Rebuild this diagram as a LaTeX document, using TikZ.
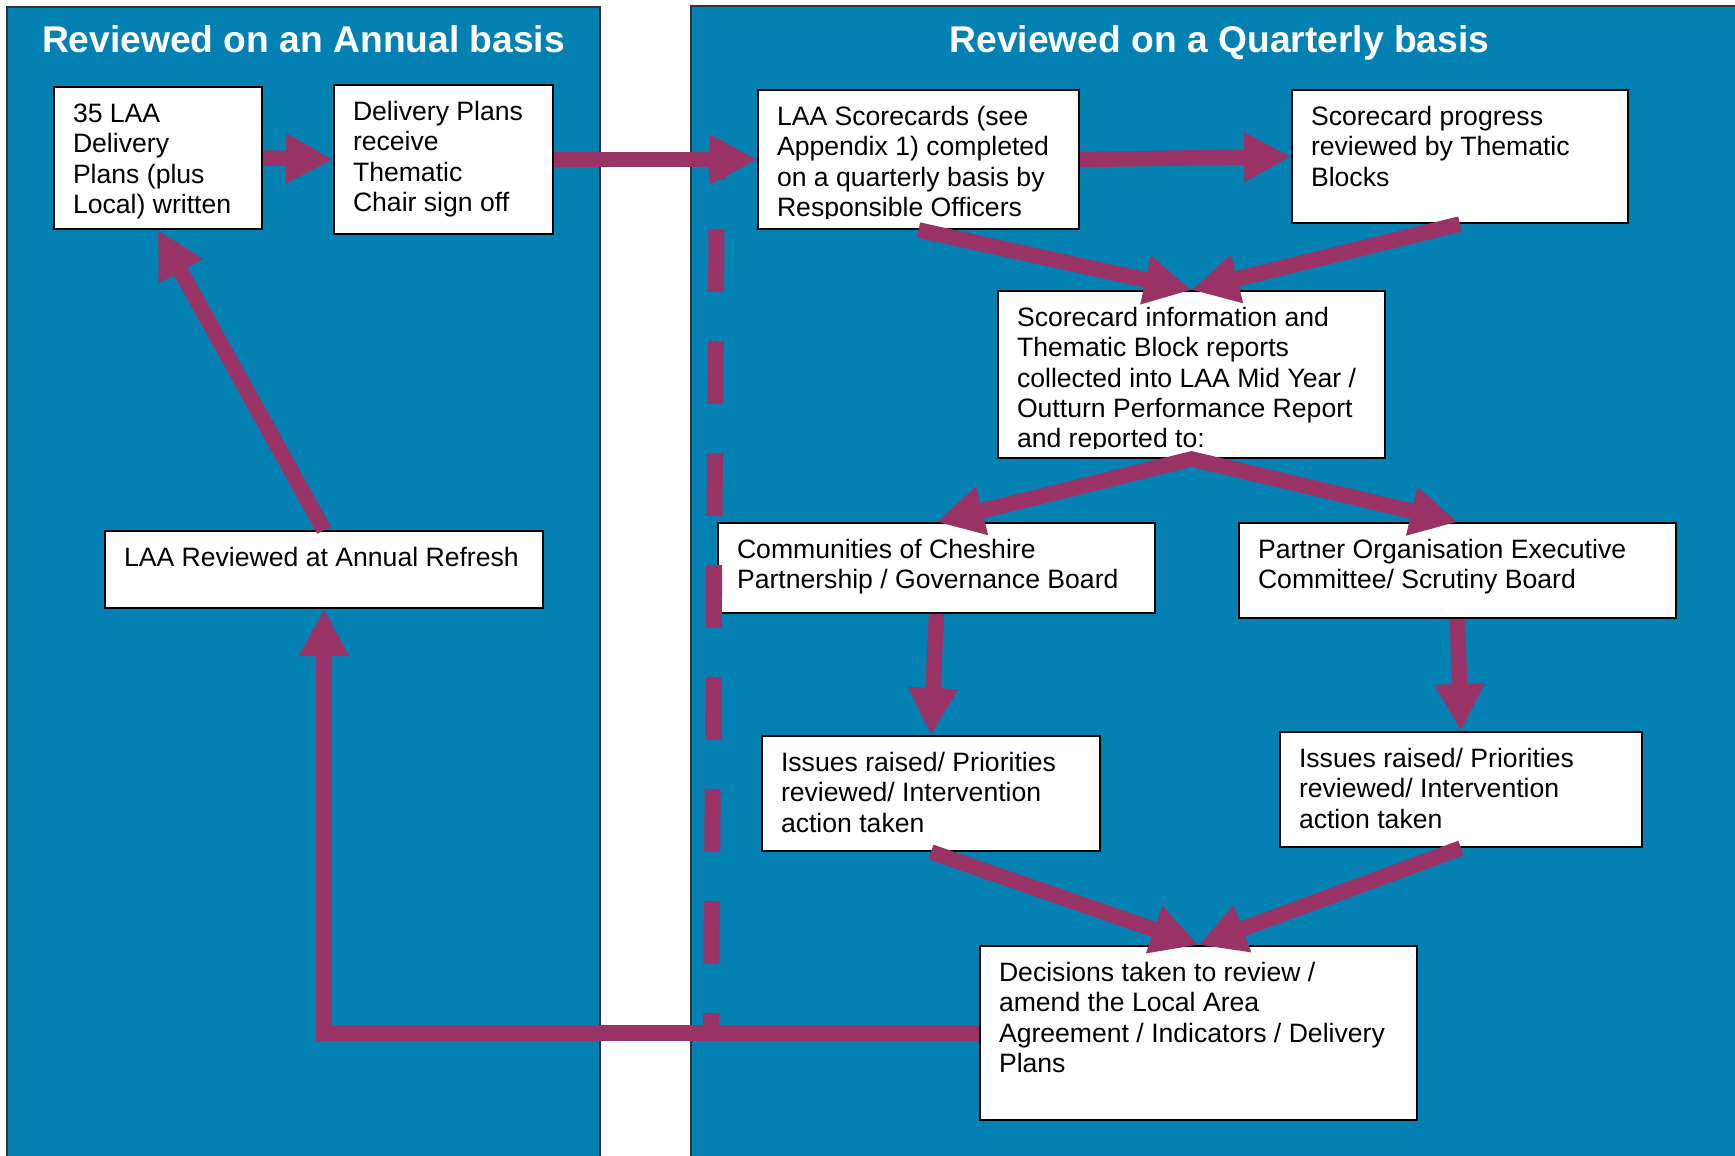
\documentclass[tikz,border=0pt]{standalone}
\usepackage{fontspec}
\setmainfont{Liberation Sans}
\usetikzlibrary{arrows.meta}
\definecolor{panelblue}{HTML}{0381B3}
\definecolor{plum}{HTML}{993366}
\newcommand{\boxtxt}[3]{\parbox[t][#2][t]{#1}{\raggedright\strut #3}}

\begin{document}
\begin{tikzpicture}[x=0.5pt, y=-0.5pt, >={Triangle[width=23.5pt,length=23.5pt]},
  panel/.style={draw=black!80, line width=0.8pt, fill=panelblue},
  heading/.style={text=white, font=\fontsize{18.6}{22}\selectfont\bfseries, anchor=base},
  stepbox/.style={draw=black, line width=1pt, fill=white, anchor=north west,
    inner xsep=9.5pt, inner ysep=7pt, font=\fontsize{13.3}{15.2}\selectfont},
  flow/.style={draw=plum, line width=7.75pt, ->}]
  \useasboundingbox (0,0) rectangle (1735,1156);
  % Panely
  \draw[panel] (7,7) rectangle (600,1180);
  \draw[panel] (691,6) rectangle (1760,1180);
  \node[heading] (annual) at (303.5,53) {Reviewed on an Annual basis};
  \node[heading] (quarterly) at (1219.5,53) {Reviewed on a Quarterly basis};
  % Rocni cast
  \node[stepbox] (plans) at (53,86) {\boxtxt{85pt}{57pt}{35 LAA\\Delivery\\Plans (plus\\Local) written}};
  \node[stepbox] (signoff) at (333,84) {\boxtxt{90.5pt}{60.5pt}{Delivery Plans\\receive\\Thematic\\Chair sign off}};
  \node[stepbox] (refresh) at (104,530) {\boxtxt{200pt}{24.5pt}{LAA Reviewed at Annual Refresh}};
  % Ctvrtletni cast
  \node[stepbox] (scorecards) at (757,89) {\boxtxt{141.5pt}{55.5pt}{LAA Scorecards (see\\Appendix 1) completed\\on a quarterly basis by\\Responsible Officers}};
  \node[stepbox] (progress) at (1291,89) {\boxtxt{149pt}{52.5pt}{Scorecard progress\\reviewed by Thematic\\Blocks}};
  \node[stepbox] (collect) at (997,290) {\boxtxt{174.5pt}{69.5pt}{Scorecard information and\\Thematic Block reports\\collected into LAA Mid Year /\\Outturn Performance Report\\and reported to:}};
  \node[stepbox] (board) at (717,522) {\boxtxt{199.5pt}{31pt}{Communities of Cheshire\\Partnership / Governance Board}};
  \node[stepbox] (partner) at (1238,522) {\boxtxt{199.5pt}{33.5pt}{Partner Organisation Executive\\Committee/ Scrutiny Board}};
  \node[stepbox] (issuesl) at (761,735) {\boxtxt{150pt}{43.5pt}{Issues raised/ Priorities\\reviewed/ Intervention\\action taken}};
  \node[stepbox] (issuesr) at (1279,731) {\boxtxt{162pt}{43.5pt}{Issues raised/ Priorities\\reviewed/ Intervention\\action taken}};
  \node[stepbox] (decide) at (979,945) {\boxtxt{199.5pt}{73pt}{Decisions taken to review /\\amend the Local Area\\Agreement / Indicators / Delivery\\Plans}};
  % Orizly text dole
  \fill[white] ([shift={(2,-2)}]scorecards.south west) rectangle ([shift={(-2,-11)}]scorecards.south east);
  \fill[white] ([shift={(2,-2)}]collect.south west) rectangle ([shift={(-2,-10)}]collect.south east);
  % Prerusovana hranice
  \coordinate (qtop) at (717,158);
  \coordinate (qbot) at (711,1031);
  \draw[plum, line width=8pt, dash pattern=on 31.5pt off 24.5pt, dash phase=20.5pt] (qtop) -- (qbot);
  % Sipky
  \draw[flow] (plans.east) -- (signoff.west);
  \draw[flow] (signoff.east) -- (scorecards.west);
  \draw[flow] (scorecards.east) -- (progress.west);
  \draw[flow] (scorecards.south) -- (collect.north);
  \draw[flow] (progress.south) -- (collect.north);
  \draw[flow, <->] (board.north) -- (collect.south) -- (partner.north);
  \draw[flow] (board.south) -- (issuesl.north);
  \draw[flow] (partner.south) -- (issuesr.north);
  \draw[flow] (issuesl.south) -- (decide.north);
  \draw[flow] (issuesr.south) -- (decide.north);
  \draw[flow] (decide.west) -| (refresh.south);
  \draw[flow] (refresh.north) -- (plans.south);
\end{tikzpicture}
\end{document}
